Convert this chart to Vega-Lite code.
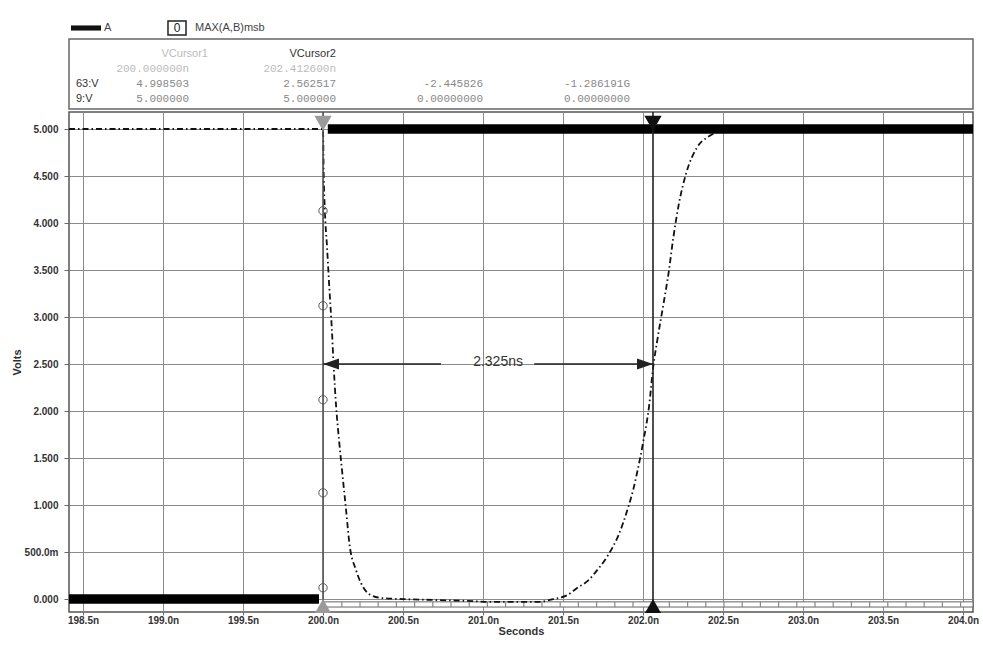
{
  "$schema": "https://vega.github.io/schema/vega-lite/v6.json",
  "padding": {"left": 10, "top": 18, "right": 6, "bottom": 4},
  "spacing": 0,
  "background": "white",
  "config": {"font": "Liberation Sans", "view": {"stroke": null}},
  "vconcat": [
    {
      "width": 904,
      "height": 16,
      "view": {"stroke": null},
      "data": {"values": [{"item": "A", "box": ""}, {"item": "MAX(A,B)msb", "box": "0"}]},
      "encoding": {
        "x": {"field": "item", "type": "nominal", "scale": {"type": "point", "padding": 0, "domain": ["A", "MAX(A,B)msb"], "range": [17, 108]}, "axis": null}
      },
      "layer": [
        {"transform": [{"filter": "datum.item == 'A'"}], "mark": {"type": "point", "shape": "M-1,-0.17H1V0.17H-1Z", "size": 900, "filled": true, "color": "#111", "opacity": 1}},
        {"transform": [{"filter": "datum.item != 'A'"}], "mark": {"type": "point", "shape": "M-1.1,-0.85H1.1V0.85H-1.1Z", "size": 268, "filled": false, "color": "#222", "strokeWidth": 1.5, "opacity": 1}},
        {"mark": {"type": "text", "align": "center", "baseline": "middle", "fontSize": 12, "color": "#222"}, "encoding": {"text": {"field": "box"}}},
        {"mark": {"type": "text", "align": "left", "baseline": "middle", "dx": 18, "fontSize": 11, "color": "#444"}, "encoding": {"text": {"field": "item"}}}
      ]
    },
    {
      "width": 904,
      "height": 70,
      "view": {"stroke": "#666", "strokeWidth": 1.5},
      "data": {"values": [
        {"row": "hdr", "col": "v1", "text": "VCursor1", "kind": "hdr1"},
        {"row": "hdr", "col": "v2", "text": "VCursor2", "kind": "hdr2"},
        {"row": "time", "col": "v1", "text": "200.000000n", "kind": "time"},
        {"row": "time", "col": "v2", "text": "202.412600n", "kind": "time"},
        {"row": "r63", "col": "lab", "text": "63:V", "kind": "lab"},
        {"row": "r63", "col": "v1", "text": "4.998503", "kind": "val"},
        {"row": "r63", "col": "v2", "text": "2.562517", "kind": "val"},
        {"row": "r63", "col": "v3", "text": "-2.445826", "kind": "val"},
        {"row": "r63", "col": "v4", "text": "-1.286191G", "kind": "val"},
        {"row": "r9", "col": "lab", "text": "9:V", "kind": "lab"},
        {"row": "r9", "col": "v1", "text": "5.000000", "kind": "val"},
        {"row": "r9", "col": "v2", "text": "5.000000", "kind": "val"},
        {"row": "r9", "col": "v3", "text": "0.00000000", "kind": "val"},
        {"row": "r9", "col": "v4", "text": "0.00000000", "kind": "val"}
      ]},
      "encoding": {
        "x": {"field": "col", "type": "nominal", "scale": {"type": "point", "padding": 0, "domain": ["lab", "v1", "v2", "v3", "v4"], "range": [-27, 561]}, "axis": null},
        "y": {"field": "row", "type": "nominal", "scale": {"type": "point", "padding": 0, "domain": ["hdr", "time", "r63", "r9"], "range": [15, 60]}, "axis": null},
        "text": {"field": "text"}
      },
      "layer": [
        {"transform": [{"filter": "datum.kind == 'lab'"}], "mark": {"type": "text", "align": "left", "baseline": "middle", "dx": 34, "fontSize": 11, "color": "#333"}},
        {"transform": [{"filter": "datum.kind == 'hdr2'"}], "mark": {"type": "text", "align": "right", "baseline": "middle", "fontSize": 11, "color": "#333"}},
        {"transform": [{"filter": "datum.kind == 'hdr1'"}], "mark": {"type": "text", "align": "right", "baseline": "middle", "dx": 19, "fontSize": 11, "color": "#bbb"}},
        {"transform": [{"filter": "datum.kind == 'val'"}], "mark": {"type": "text", "align": "right", "baseline": "middle", "font": "Liberation Mono", "fontSize": 11, "color": "#888"}},
        {"transform": [{"filter": "datum.kind == 'time'"}], "mark": {"type": "text", "align": "right", "baseline": "middle", "font": "Liberation Mono", "fontSize": 11, "color": "#bbb"}}
      ]
    },
    {
      "width": 904,
      "height": 500,
      "view": {"stroke": "#555", "strokeWidth": 1.5},
      "encoding": {
        "x": {"field": "t", "type": "quantitative",
          "scale": {"domain": [198.4125, 204.0625], "nice": false, "zero": false},
          "axis": {"values": [198.5, 199, 199.5, 200, 200.5, 201, 201.5, 202, 202.5, 203, 203.5, 204],
            "labelExpr": "format(datum.value, '.1f') + 'n'", "title": "Seconds", "grid": true, "gridColor": "#8a8a8a", "gridWidth": 1,
            "domain": false, "tickSize": 3, "tickColor": "#666", "labelFont": "Liberation Sans", "labelFontSize": 10, "labelFontWeight": "bold",
            "labelColor": "#333", "titleFontSize": 11, "titleFontWeight": "bold", "titleColor": "#333", "labelPadding": 0, "titlePadding": 0}},
        "y": {"field": "v", "type": "quantitative",
          "scale": {"domain": [-0.138, 5.181], "nice": false, "zero": false},
          "axis": {"values": [0, 0.5, 1, 1.5, 2, 2.5, 3, 3.5, 4, 4.5, 5],
            "labelExpr": "datum.value == 0.5 ? '500.0m' : format(datum.value, '.3f')", "title": "Volts", "grid": true, "gridColor": "#8a8a8a", "gridWidth": 1,
            "domain": false, "tickSize": 5, "tickColor": "#666", "labelFont": "Liberation Sans", "labelFontSize": 10, "labelFontWeight": "bold",
            "labelColor": "#333", "titleFontSize": 11, "titleFontWeight": "bold", "titleColor": "#333", "labelPadding": 6, "titlePadding": 2}}
      },
      "layer": [
        {
          "data": {"values": [{"t": 200.0, "t2": 204.0625, "v": -0.03, "v2": -0.085}]},
          "mark": {"type": "rect", "fill": "white", "stroke": "#666", "strokeWidth": 1},
          "encoding": {"x2": {"field": "t2"}, "y2": {"field": "v2"}}
        },
        {
          "data": {"values": [{"t": 200.0, "t2": 204.0625, "v": -0.058}]},
          "mark": {"type": "rule", "color": "#888", "strokeWidth": 5, "strokeDash": [1.2, 17]},
          "encoding": {"x2": {"field": "t2"}}
        },
        {
          "data": {"values": [{"v": 0.1}, {"v": 0.2}, {"v": 0.3}, {"v": 0.4}, {"v": 0.6}, {"v": 0.7}, {"v": 0.8}, {"v": 0.9}, {"v": 1.1}, {"v": 1.2}, {"v": 1.3}, {"v": 1.4}, {"v": 1.6}, {"v": 1.7}, {"v": 1.8}, {"v": 1.9}, {"v": 2.1}, {"v": 2.2}, {"v": 2.3}, {"v": 2.4}, {"v": 2.6}, {"v": 2.7}, {"v": 2.8}, {"v": 2.9}, {"v": 3.1}, {"v": 3.2}, {"v": 3.3}, {"v": 3.4}, {"v": 3.6}, {"v": 3.7}, {"v": 3.8}, {"v": 3.9}, {"v": 4.1}, {"v": 4.2}, {"v": 4.3}, {"v": 4.4}, {"v": 4.6}, {"v": 4.7}, {"v": 4.8}, {"v": 4.9}, {"v": 5.1}]},
          "mark": {"type": "tick", "orient": "horizontal", "size": 8, "thickness": 1, "color": "#666"},
          "encoding": {"x": {"datum": 198.4125}}
        },
        {
          "data": {"values": [
            {"t": 198.4125, "v": 5.0}, {"t": 199.5, "v": 5.0}, {"t": 200.0, "v": 5.0},
            {"t": 200.004, "v": 4.55}, {"t": 200.012, "v": 4.12}, {"t": 200.025, "v": 3.75}, {"t": 200.04, "v": 3.3},
            {"t": 200.055, "v": 2.88}, {"t": 200.066, "v": 2.5}, {"t": 200.082, "v": 2.05}, {"t": 200.102, "v": 1.66},
            {"t": 200.123, "v": 1.3}, {"t": 200.144, "v": 0.95}, {"t": 200.165, "v": 0.59}, {"t": 200.206, "v": 0.31},
            {"t": 200.2375, "v": 0.17}, {"t": 200.3, "v": 0.04}, {"t": 200.37, "v": 0.01}, {"t": 200.5, "v": 0.0},
            {"t": 200.7, "v": -0.01}, {"t": 200.9, "v": -0.02}, {"t": 201.05, "v": -0.03}, {"t": 201.2, "v": -0.03},
            {"t": 201.35, "v": -0.03}, {"t": 201.44, "v": 0.0}, {"t": 201.525, "v": 0.04}, {"t": 201.59, "v": 0.12},
            {"t": 201.66, "v": 0.2}, {"t": 201.71, "v": 0.3}, {"t": 201.76, "v": 0.41}, {"t": 201.81, "v": 0.55},
            {"t": 201.85, "v": 0.69}, {"t": 201.88, "v": 0.83}, {"t": 201.91, "v": 0.99}, {"t": 201.94, "v": 1.17},
            {"t": 201.96, "v": 1.32}, {"t": 202.0, "v": 1.66}, {"t": 202.04, "v": 2.08}, {"t": 202.0625, "v": 2.45},
            {"t": 202.09, "v": 2.76}, {"t": 202.125, "v": 3.11}, {"t": 202.16, "v": 3.47}, {"t": 202.19, "v": 3.85},
            {"t": 202.225, "v": 4.21}, {"t": 202.27, "v": 4.53}, {"t": 202.34, "v": 4.81}, {"t": 202.41, "v": 4.92},
            {"t": 202.5, "v": 4.98}, {"t": 202.7, "v": 5.0}, {"t": 204.0625, "v": 5.0}
          ]},
          "mark": {"type": "line", "color": "#111", "strokeWidth": 1.8, "strokeDash": [6, 3, 1.5, 3], "interpolate": "monotone"},
          "encoding": {}
        },
        {
          "data": {"values": [{"t": 198.4125, "t2": 199.975, "v": 0}, {"t": 200.03, "t2": 204.0625, "v": 5}]},
          "mark": {"type": "rule", "color": "#000", "strokeWidth": 9.5, "strokeCap": "butt"},
          "encoding": {"x2": {"field": "t2"}}
        },
        {
          "data": {"values": [{"t": 200.0, "c": "1"}, {"t": 202.0625, "c": "2"}]},
          "mark": {"type": "rule", "strokeWidth": 1.6},
          "encoding": {"y": null, "stroke": {"field": "c", "type": "nominal", "scale": {"domain": ["1", "2"], "range": ["#555", "#222"]}, "legend": null}}
        },
        {
          "data": {"values": [{"t": 200.0, "v": 4.13}, {"t": 200.0, "v": 3.12}, {"t": 200.0, "v": 2.12}, {"t": 200.0, "v": 1.13}, {"t": 200.0, "v": 0.12}]},
          "mark": {"type": "point", "shape": "circle", "filled": false, "size": 70, "color": "#555", "strokeWidth": 1, "opacity": 1}
        },
        {
          "data": {"values": [{"t": 200.0, "t2": 200.7375, "v": 2.5}, {"t": 201.32, "t2": 202.0625, "v": 2.5}]},
          "mark": {"type": "rule", "color": "#222", "strokeWidth": 1.6},
          "encoding": {"x2": {"field": "t2"}}
        },
        {
          "data": {"values": [{"t": 200.0, "v": 2.5, "dir": "L"}, {"t": 202.0625, "v": 2.5, "dir": "R"}]},
          "mark": {"type": "point", "filled": true, "size": 400, "color": "#222", "opacity": 1},
          "encoding": {"shape": {"field": "dir", "type": "nominal", "scale": {"domain": ["L", "R"], "range": ["M0,0L1.6,-0.55L1.6,0.55Z", "M0,0L-1.6,-0.55L-1.6,0.55Z"]}, "legend": null}}
        },
        {
          "data": {"values": [{"t": 201.094, "v": 2.52, "label": "2.325ns"}]},
          "mark": {"type": "text", "fontSize": 14, "color": "#333", "align": "center", "baseline": "middle"},
          "encoding": {"text": {"field": "label"}}
        },
        {
          "data": {"values": [{"t": 200.0, "v": 5.06, "c": "1"}, {"t": 202.0625, "v": 5.06, "c": "2"}]},
          "mark": {"type": "point", "shape": "triangle-down", "filled": true, "size": 300, "opacity": 1, "strokeWidth": 0},
          "encoding": {"fill": {"field": "c", "type": "nominal", "scale": {"domain": ["1", "2"], "range": ["#9a9a9a", "#111"]}, "legend": null}}
        },
        {
          "data": {"values": [{"t": 200.0, "v": -0.075, "c": "1"}, {"t": 202.0625, "v": -0.075, "c": "2"}]},
          "mark": {"type": "point", "shape": "triangle-up", "filled": true, "size": 260, "opacity": 1, "strokeWidth": 0},
          "encoding": {"fill": {"field": "c", "type": "nominal", "scale": {"domain": ["1", "2"], "range": ["#9a9a9a", "#111"]}, "legend": null}}
        }
      ]
    }
  ]
}
